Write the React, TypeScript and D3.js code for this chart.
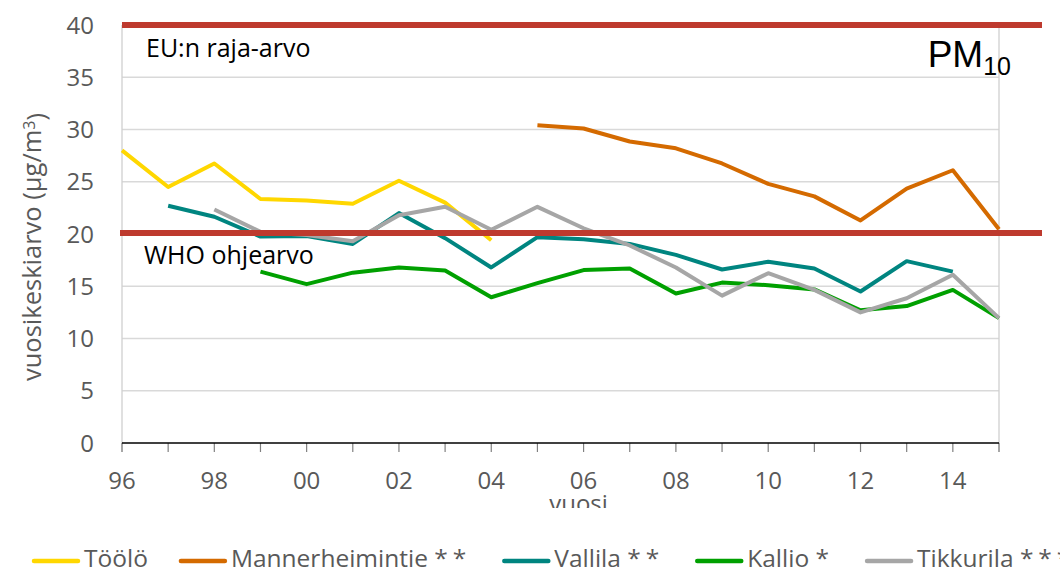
import * as d3 from 'd3';
import { useEffect, useRef } from 'react';

// vuodet 1996-2015
const years = [1996, 1997, 1998, 1999, 2000, 2001, 2002, 2003, 2004, 2005,
  2006, 2007, 2008, 2009, 2010, 2011, 2012, 2013, 2014, 2015];

const tooloValues = [28.0, 24.5, 26.75, 23.35, 23.2, 22.9, 25.1, 23.0, 19.4, null,
  null, null, null, null, null, null, null, null, null, null];
const mannerheimintieValues = [null, null, null, null, null, null, null, null, null, 30.4,
  30.1, 28.85, 28.2, 26.75, 24.8, 23.6, 21.3, 24.35, 26.1, 20.45];
const vallilaValues = [null, 22.7, 21.65, 19.75, 19.8, 19.05, 22.0, 19.6, 16.8, 19.7,
  19.5, 19.05, 18.0, 16.6, 17.35, 16.7, 14.5, 17.4, 16.4, null];
const kallioValues = [null, null, null, 16.4, 15.2, 16.3, 16.8, 16.5, 13.95, 15.3,
  16.55, 16.7, 14.3, 15.35, 15.1, 14.7, 12.7, 13.1, 14.65, 11.95];
const tikkurilaValues = [null, null, 22.35, 20.2, 19.9, 19.3, 21.8, 22.6, 20.4, 22.6,
  20.55, 18.9, 16.8, 14.1, 16.25, 14.65, 12.5, 13.85, 16.1, 11.95];

const seriesNames = ['Töölö', 'Mannerheimintie', 'Vallila', 'Kallio', 'Tikkurila'];
const seriesMarks = ['', '**', '**', '*', '***'];
const seriesValues = [tooloValues, mannerheimintieValues, vallilaValues, kallioValues, tikkurilaValues];
const seriesColors = ['#FFD700', '#D46A00', '#008580', '#00A000', '#A6A6A6'];

const yTicks = [0, 5, 10, 15, 20, 25, 30, 35, 40];
const xTickLabels = [1996, 1998, 2000, 2002, 2004, 2006, 2008, 2010, 2012, 2014];

const euLimit = 40;
const whoGuide = 20;

const FONT = '"Open Sans", Lato, sans-serif';

export default function App() {
  const svgRef = useRef<SVGSVGElement | null>(null);

  useEffect(() => {
    if (!svgRef.current) return;
    const width = 1060;
    const height = 574;
    const margin = { top: 25, right: 61, bottom: 131, left: 122 };
    const innerWidth = width - margin.left - margin.right;
    const innerHeight = height - margin.top - margin.bottom;

    const root = d3.select(svgRef.current).html('');

    const x = d3.scaleLinear().domain([1996, 2015]).range([0, innerWidth]);
    const y = d3.scaleLinear().domain([0, 40]).range([innerHeight, 0]);

    const g = root.append('g').attr('transform', `translate(${margin.left},${margin.top})`);

    // gridlines
    g.append('g')
      .selectAll('line')
      .data(yTicks.filter(t => t > 0))
      .enter().append('line')
      .attr('x1', 0)
      .attr('x2', innerWidth)
      .attr('y1', d => y(d))
      .attr('y2', d => y(d))
      .attr('stroke', '#D9D9D9')
      .attr('stroke-width', 1.3);

    // vertical borders
    [0, innerWidth].forEach(px => {
      g.append('line')
        .attr('x1', px).attr('x2', px)
        .attr('y1', 0).attr('y2', innerHeight + 9)
        .attr('stroke', '#D0D0D0')
        .attr('stroke-width', 1.3);
    });

    // x ticks
    g.append('g')
      .selectAll('line')
      .data(years)
      .enter().append('line')
      .attr('x1', d => x(d)).attr('x2', d => x(d))
      .attr('y1', innerHeight).attr('y2', innerHeight + 9)
      .attr('stroke', '#808080')
      .attr('stroke-width', 1.2);

    // x axis line
    g.append('line')
      .attr('x1', 0).attr('x2', innerWidth)
      .attr('y1', innerHeight).attr('y2', innerHeight)
      .attr('stroke', '#000')
      .attr('stroke-width', 1.5);

    // x tick labels
    g.append('g')
      .selectAll('text')
      .data(xTickLabels)
      .enter().append('text')
      .attr('x', d => x(d))
      .attr('y', innerHeight + 46)
      .attr('text-anchor', 'middle')
      .attr('fill', '#595959')
      .style('font-family', FONT)
      .style('font-size', '24px')
      .text(d => String(d % 100).padStart(2, '0'));

    // y tick labels
    g.append('g')
      .selectAll('text')
      .data(yTicks)
      .enter().append('text')
      .attr('x', -28)
      .attr('y', d => y(d))
      .attr('dy', '0.36em')
      .attr('text-anchor', 'end')
      .attr('fill', '#595959')
      .style('font-family', FONT)
      .style('font-size', '24px')
      .text(d => d);

    // x axis title, cut off at the bottom
    root.append('clipPath').attr('id', 'xtitle-clip')
      .append('rect').attr('x', 0).attr('y', 0).attr('width', width).attr('height', 508);
    root.append('text')
      .attr('clip-path', 'url(#xtitle-clip)')
      .attr('x', margin.left + innerWidth / 2 + 18)
      .attr('y', 512)
      .attr('text-anchor', 'middle')
      .attr('fill', '#595959')
      .style('font-family', FONT)
      .style('font-size', '24px')
      .text('vuosi');

    // y axis title
    const yTitle = root.append('text')
      .attr('transform', `translate(41,${margin.top + innerHeight / 2 + 13}) rotate(-90)`)
      .attr('text-anchor', 'middle')
      .attr('fill', '#595959')
      .style('font-family', FONT)
      .style('font-size', '25.5px');
    yTitle.append('tspan').text('vuosikeskiarvo (µg/m');
    yTitle.append('tspan').attr('dy', '-0.4em').style('font-size', '16px').text('3');
    yTitle.append('tspan').attr('dy', '0.4em').text(')');

    // data lines
    const line = d3.line<number | null>()
      .defined(d => d !== null)
      .x((_, i) => x(years[i]))
      .y(d => y(d as number));

    seriesValues.forEach((vals, i) => {
      g.append('path')
        .datum(vals)
        .attr('fill', 'none')
        .attr('stroke', seriesColors[i])
        .attr('stroke-width', 4)
        .attr('stroke-linejoin', 'round')
        .attr('d', line);
    });

    // limit lines
    g.append('line')
      .attr('x1', 0).attr('x2', width - margin.left - 18)
      .attr('y1', y(euLimit)).attr('y2', y(euLimit))
      .attr('stroke', '#BE3A2E')
      .attr('stroke-width', 6);
    g.append('line')
      .attr('x1', -2).attr('x2', width - margin.left - 18)
      .attr('y1', y(whoGuide) - 1).attr('y2', y(whoGuide) - 1)
      .attr('stroke', '#BE3A2E')
      .attr('stroke-width', 6);

    g.append('text')
      .attr('x', 24).attr('y', y(euLimit) + 32)
      .attr('fill', '#000')
      .style('font-family', FONT)
      .style('font-size', '25px')
      .text('EU:n raja-arvo');
    g.append('text')
      .attr('x', 22).attr('y', y(whoGuide) + 30)
      .attr('fill', '#000')
      .style('font-family', FONT)
      .style('font-size', '25px')
      .text('WHO ohjearvo');

    // PM10
    const pm = g.append('text')
      .attr('x', innerWidth + 12).attr('y', 42)
      .attr('text-anchor', 'end')
      .attr('fill', '#000')
      .style('font-family', '"Liberation Sans", Arial, sans-serif')
      .style('font-size', '37px');
    pm.append('tspan').text('PM');
    pm.append('tspan').attr('dy', 8).style('font-size', '25px').text('10');

    // legend
    const legend = root.append('g').attr('transform', `translate(32,${559})`);
    let cx = 0;
    seriesNames.forEach((name, i) => {
      legend.append('line')
        .attr('x1', cx + 2).attr('x2', cx + 46)
        .attr('y1', 2).attr('y2', 2)
        .attr('stroke', seriesColors[i])
        .attr('stroke-width', 4.5)
        .attr('stroke-linecap', 'round');
      const t = legend.append('text')
        .attr('x', cx + 52)
        .attr('y', 0)
        .attr('dy', '0.33em')
        .attr('fill', '#595959')
        .style('font-family', FONT)
        .style('font-size', '24.5px')
        .text(name);
      if (seriesMarks[i]) {
        t.append('tspan').text(' ');
        t.append('tspan').style('letter-spacing', '5px').text(seriesMarks[i]);
      }
      const w = (t.node() as SVGTextElement).getComputedTextLength();
      cx += 52 + w + 31;
    });
  }, []);

  return (
    <svg
      ref={svgRef}
      width={1060}
      height={574}
      style={{ position: 'absolute', left: 0, top: 0, background: '#fff' }}
    />
  );
}
